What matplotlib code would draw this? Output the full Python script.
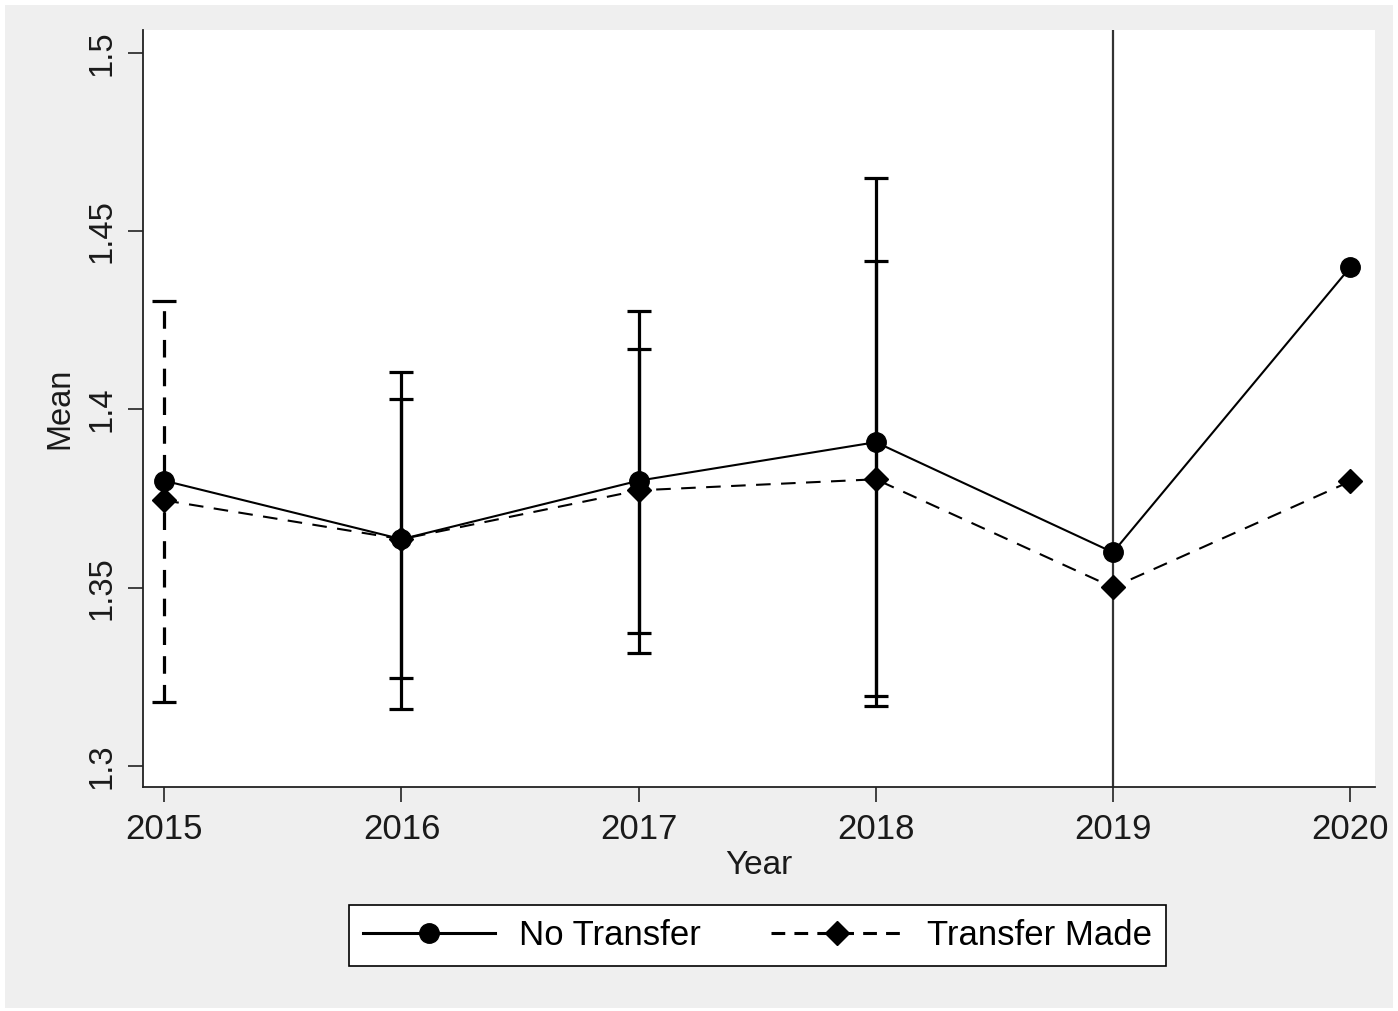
import matplotlib
matplotlib.use("Agg")
import matplotlib.pyplot as plt
from matplotlib.patches import Rectangle
from matplotlib.lines import Line2D

years = [2015, 2016, 2017, 2018, 2019, 2020]
no_transfer = [1.380, 1.3636, 1.380, 1.3908, 1.3599, 1.4398]
transfer_made = [1.3745, 1.3636, 1.3773, 1.3804, 1.3501, 1.3798]

# confidence intervals (solid): year, low, high
ci_years = [2016, 2016, 2017, 2017, 2018, 2018]
ci_low = [1.3160, 1.3246, 1.3317, 1.3373, 1.3168, 1.3197]
ci_high = [1.4104, 1.4028, 1.4277, 1.4170, 1.4650, 1.4415]
# dashed confidence interval
ci_dash_year = [2015]
ci_dash_low = [1.3179]
ci_dash_high = [1.4305]

ref_year = 2019
yticks = [1.3, 1.35, 1.4, 1.45, 1.5]
ytick_labels = ["1.3", "1.35", "1.4", "1.45", "1.5"]

plt.rcParams['font.family'] = ['Liberation Sans', 'DejaVu Sans']

W, H = 1398, 1011
fig = plt.figure(figsize=(W / 100, H / 100), dpi=100, facecolor='white')
fig.patches.append(Rectangle((5 / W, 3 / H), (W - 10) / W, (H - 8) / H,
                             transform=fig.transFigure, facecolor='#efefef',
                             edgecolor='none', zorder=-5))

ax = fig.add_axes([143 / W, 1 - 787 / H, (1375 - 143) / W, (787 - 30) / H])
ax.set_facecolor('white')

ax.axvline(ref_year, color='#333333', lw=1.6, zorder=1)

for x, lo, hi in zip(ci_years, ci_low, ci_high):
    ax.errorbar([x], [(lo + hi) / 2], yerr=[[(lo + hi) / 2 - lo], [hi - (lo + hi) / 2]],
                fmt='none', ecolor='black', elinewidth=2.3, capsize=8.5, capthick=2.3, zorder=2)

for x, lo, hi in zip(ci_dash_year, ci_dash_low, ci_dash_high):
    eb = ax.errorbar([x], [(lo + hi) / 2], yerr=[[(lo + hi) / 2 - lo], [hi - (lo + hi) / 2]],
                     fmt='none', ecolor='black', elinewidth=2.3, capsize=8.5, capthick=2.3, zorder=2)
    for lc in eb[2]:
        lc.set_linestyle((0, (5.5, 3.5)))

ax.plot(years, no_transfer, color='black', lw=1.5, marker='o', markersize=14,
        label='No Transfer', zorder=4)
ax.plot(years, transfer_made, color='black', lw=1.5, ls=(0, (7, 5)), marker='D',
        markersize=12, label='Transfer Made', zorder=3)

ax.set_xlim(2014.91, 2020.105)
ax.set_ylim(1.2941, 1.5064)
ax.set_xticks(years)
ax.set_xticklabels([str(y) for y in years])
ax.set_yticks(yticks)
ax.set_yticklabels(ytick_labels, rotation=90, va='center')

for s in ['top', 'right']:
    ax.spines[s].set_visible(False)
for s in ['left', 'bottom']:
    ax.spines[s].set_linewidth(1.3)
    ax.spines[s].set_color('#222222')

ax.tick_params(axis='both', direction='out', length=10.5, width=1.2, colors='#222222',
               labelcolor='#1a1a1a')
ax.tick_params(axis='y', pad=8, labelsize=23.5)
ax.tick_params(axis='x', pad=8, labelsize=25)

ax.set_xlabel('Year', fontsize=24, color='#1a1a1a', labelpad=3)
ax.set_ylabel('Mean', fontsize=23.5, color='#1a1a1a', labelpad=8)

handles = [Line2D([], [], color='black', lw=2.2, marker='o', markersize=14),
           Line2D([], [], color='black', lw=2.2, ls=(0, (4.5, 3)), marker='D', markersize=12)]
leg = fig.legend(handles, ['No Transfer', 'Transfer Made'], loc='center',
                 bbox_to_anchor=(757.5 / W, 1 - 935.5 / H), ncol=2, fontsize=25,
                 frameon=True, fancybox=False, edgecolor='black', facecolor='white',
                 framealpha=1, handlelength=3.8, columnspacing=2.0, borderpad=0.4,
                 handletextpad=0.7)
leg.get_frame().set_linewidth(1.2)

fig.savefig('out.png', dpi=100, facecolor=fig.get_facecolor())
